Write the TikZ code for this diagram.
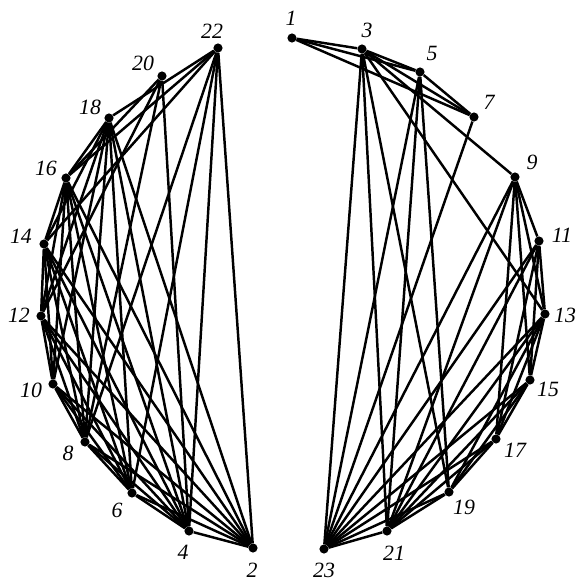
\documentclass[tikz,border=0pt]{standalone}
\usepackage{fontspec}
\setmainfont{Liberation Serif}
\usetikzlibrary{positioning}
\tikzset{
  vtx/.style  = {circle, fill=black, inner sep=0pt, minimum size=6.5pt},
  num/.style  = {font=\fontsize{15.5}{16}\selectfont\itshape, inner sep=0pt},
  link/.style = {line width=1.75pt, black}
}

\begin{document}
\begin{tikzpicture}[x=0.025cm, y=-0.025cm]
    \useasboundingbox (0,0) rectangle (577,580);

    % odd vertices, right half
    \node[vtx] (v1)  at (292,38)  {};
    \node[vtx] (v3)  at (362,49)  {};
    \node[vtx] (v5)  at (420,72)  {};
    \node[vtx] (v7)  at (474,117) {};
    \node[vtx] (v9)  at (515,177) {};
    \node[vtx] (v11) at (539,241) {};
    \node[vtx] (v13) at (545,314) {};
    \node[vtx] (v15) at (530,380) {};
    \node[vtx] (v17) at (496,439) {};
    \node[vtx] (v19) at (449,492) {};
    \node[vtx] (v21) at (387,531) {};
    \node[vtx] (v23) at (324,549) {};
    % even vertices, left half
    \node[vtx] (v2)  at (253,548) {};
    \node[vtx] (v4)  at (189,531) {};
    \node[vtx] (v6)  at (132,493) {};
    \node[vtx] (v8)  at (85,442)  {};
    \node[vtx] (v10) at (53,384)  {};
    \node[vtx] (v12) at (41,316)  {};
    \node[vtx] (v14) at (44,244)  {};
    \node[vtx] (v16) at (66,178)  {};
    \node[vtx] (v18) at (109,118) {};
    \node[vtx] (v20) at (162,76)  {};
    \node[vtx] (v22) at (218,48)  {};

    % numbers
    \node[num] (n1)  at (291,18)  {1};
    \node[num] (n3)  at (367,30)  {3};
    \node[num] (n5)  at (432,53)  {5};
    \node[num] (n7)  at (489,102) {7};
    \node[num] (n9)  at (532,162) {9};
    \node[num] (n11) at (562,235) {11};
    \node[num] (n13) at (565,315) {13};
    \node[num] (n15) at (548,389) {15};
    \node[num] (n17) at (515,450) {17};
    \node[num] (n19) at (464,507) {19};
    \node[num] (n21) at (394,553) {21};
    \node[num] (n23) at (324,570) {23};
    \node[num] (n2)  at (252,570) {2};
    \node[num] (n4)  at (183,552) {4};
    \node[num] (n6)  at (117,510) {6};
    \node[num] (n8)  at (68,453)  {8};
    \node[num] (n10) at (31,390)  {10};
    \node[num] (n12) at (19,315)  {12};
    \node[num] (n14) at (21,236)  {14};
    \node[num] (n16) at (46,168)  {16};
    \node[num] (n18) at (90,107)  {18};
    \node[num] (n20) at (143,63)  {20};
    \node[num] (n22) at (212,31)  {22};

    % right half
    \foreach \a/\b in {1/3,1/5,1/7,3/5,3/7,3/9,3/13,3/19,3/21,3/23,
                       5/7,5/19,5/21,5/23,7/23,
                       9/11,9/13,9/15,9/17,9/21,9/23,
                       11/13,11/15,11/17,11/21,11/23,
                       13/15,13/17,13/19,13/21,13/23,
                       15/17,15/19,15/21,15/23,
                       17/19,17/21,17/23,19/21,19/23,21/23}
        \draw[link] (v\a) -- (v\b);
    % left half
    \foreach \a/\b in {22/2,22/4,22/6,22/8,22/14,22/16,22/18,
                       20/4,20/8,20/12,20/16,
                       18/16,18/14,18/12,18/10,18/8,18/6,18/4,18/2,
                       16/14,16/12,16/10,16/8,16/6,16/4,16/2,
                       14/12,14/10,14/8,14/6,14/4,14/2,
                       12/10,12/8,12/6,12/4,12/2,
                       10/8,10/6,10/4,10/2,
                       8/6,8/4,8/2,6/4,6/2,4/2}
        \draw[link] (v\a) -- (v\b);
\end{tikzpicture}
\end{document}
